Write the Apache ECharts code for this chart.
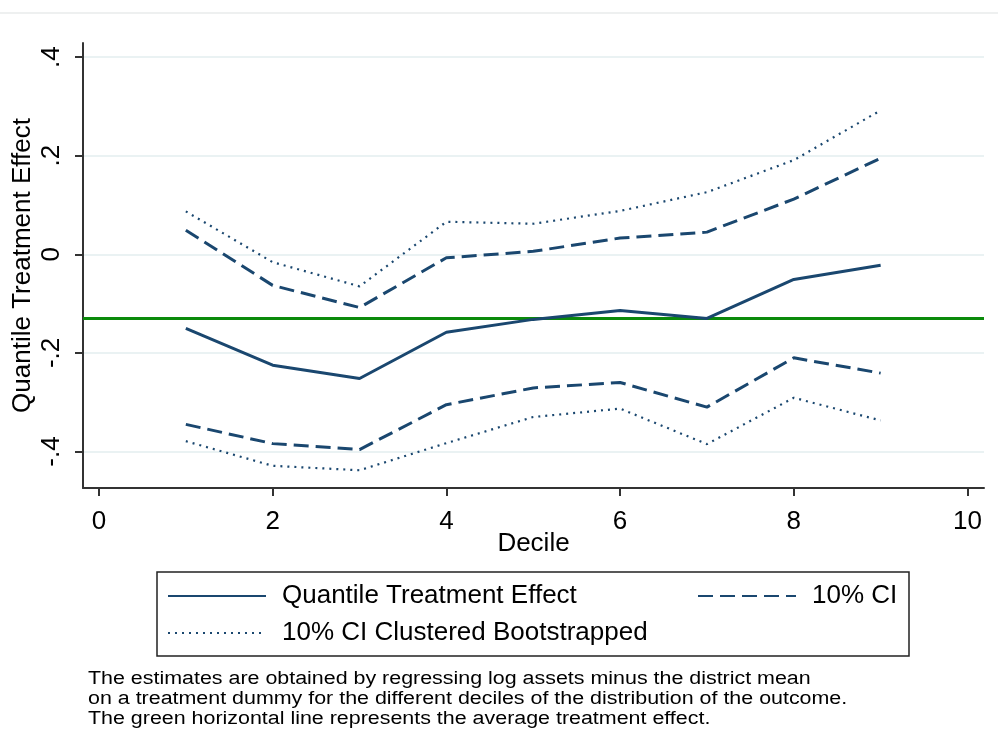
<!DOCTYPE html>
<html><head><meta charset="utf-8">
<script src="https://cdn.jsdelivr.net/npm/echarts@6/dist/echarts.min.js"></script>
<style>html,body{margin:0;padding:0;background:#fff}#c{width:998px;height:753px}</style>
</head><body><div id="c"></div>
<script>
const deciles = [1, 2, 3, 4, 5, 6, 7, 8, 9];
const qte = [-0.150, -0.225, -0.252, -0.158, -0.132, -0.114, -0.130, -0.051, -0.022];
const ciUpper = [0.049, -0.063, -0.108, -0.007, 0.006, 0.033, 0.045, 0.112, 0.195];
const ciLower = [-0.345, -0.384, -0.396, -0.305, -0.271, -0.260, -0.310, -0.210, -0.241];
const bootUpper = [0.087, -0.016, -0.065, 0.066, 0.062, 0.088, 0.126, 0.191, 0.292];
const bootLower = [-0.379, -0.429, -0.438, -0.383, -0.330, -0.313, -0.385, -0.291, -0.337];
const ate = -0.129;
const xTicks = [0, 2, 4, 6, 8, 10];
const yTicks = [-0.4, -0.2, 0, 0.2, 0.4];
const seriesNames = ['Quantile Treatment Effect', '10% CI', '10% CI Clustered Bootstrapped'];
const noteLines = [
  'The estimates are obtained by regressing log assets minus the district mean',
  'on a treatment dummy for the different deciles of the distribution of the outcome.',
  'The green horizontal line represents the average treatment effect.'
];

const FONT = '"Liberation Sans", Arial, sans-serif';
const NAVY = '#1a476f';
const GREEN = '#0b8a0b';
const pairs = arr => deciles.map((d, i) => [d, arr[i]]);
const stataFmt = v => {
  if (Math.abs(v) < 1e-9) return '0';
  return (Math.round(v * 10) / 10).toString().replace('0.', '.');
};

const chart = echarts.init(document.getElementById('c'), null, {renderer: 'canvas'});
const legendText = {fontFamily: FONT, fontSize: 26, color: '#000', padding: [0, 0, 0, 11]};
const legendCommon = {padding: 0, itemWidth: 98, itemHeight: 14, itemGap: 0, textStyle: legendText,
  itemStyle: {opacity: 0, color: 'transparent', borderWidth: 0}};
const lineSeries = (name, arr, type, width, extra) => Object.assign({
  name: name, type: 'line', data: pairs(arr), symbol: 'none', showSymbol: false,
  lineStyle: {color: NAVY, width: width, type: type, cap: 'butt'},
  itemStyle: {color: NAVY}, z: 3
}, extra || {});

chart.setOption({
  animation: false,
  backgroundColor: '#fff',
  textStyle: {fontFamily: FONT},
  grid: {left: 83, top: 43, right: 14, bottom: 265, containLabel: false, outerBoundsMode: 'none'},
  xAxis: {
    type: 'value', min: -0.184, max: 10.19,
    name: 'Decile', nameLocation: 'middle', nameGap: 43, nameMoveOverlap: false,
    nameTextStyle: {fontFamily: FONT, fontSize: 26, color: '#000'},
    axisLine: {show: true, onZero: false, lineStyle: {color: '#333', width: 2}},
    axisTick: {show: true, length: 8, customValues: xTicks, lineStyle: {color: '#333', width: 2}},
    axisLabel: {customValues: xTicks, fontFamily: FONT, fontSize: 26, color: '#000', margin: 21},
    splitLine: {show: false}
  },
  yAxis: {
    type: 'value', min: -0.474, max: 0.4286,
    name: 'Quantile Treatment Effect', nameLocation: 'middle', nameGap: 47, nameMoveOverlap: false,
    nameTextStyle: {fontFamily: FONT, fontSize: 26, color: '#000'},
    axisLine: {show: true, onZero: false, lineStyle: {color: '#333', width: 2}},
    axisTick: {show: true, length: 8, customValues: yTicks, lineStyle: {color: '#333', width: 2}},
    axisLabel: {customValues: yTicks, rotate: 90, formatter: stataFmt, fontFamily: FONT, fontSize: 26, color: '#000', margin: 18},
    splitLine: {show: true, lineStyle: {color: '#eaf2f3', width: 2}}
  },
  legend: [
    Object.assign({data: [seriesNames[0]], left: 167, top: 583}, legendCommon),
    Object.assign({data: [seriesNames[1]], left: 697, top: 583}, legendCommon),
    Object.assign({data: [seriesNames[2]], left: 167, top: 620}, legendCommon)
  ],
  series: [
    lineSeries(seriesNames[0], qte, 'solid', 3, {
      markLine: {
        silent: true, symbol: 'none', label: {show: false},
        lineStyle: {color: GREEN, type: 'solid', width: 3},
        data: [{yAxis: ate}], z: 2
      }
    }),
    lineSeries(seriesNames[1], ciUpper, [15, 7], 3),
    lineSeries(seriesNames[1], ciLower, [15, 7], 3),
    lineSeries(seriesNames[2], bootUpper, [2, 5], 2.2),
    lineSeries(seriesNames[2], bootLower, [2, 5], 2.2)
  ],
  graphic: [
    {type: 'line', shape: {x1: 0, y1: 13, x2: 998, y2: 13}, style: {stroke: '#eef0f0', lineWidth: 2}, silent: true},
    {type: 'rect', shape: {x: 157, y: 572, width: 752, height: 84}, style: {fill: 'none', stroke: '#222', lineWidth: 1.5}, silent: true, z: -1},
    {type: 'text', x: 88, y: 669, scaleX: 1.19, silent: true,
     style: {text: noteLines.join('\n'), font: '18px ' + FONT, fill: '#000', lineHeight: 20}}
  ]
});
</script></body></html>
